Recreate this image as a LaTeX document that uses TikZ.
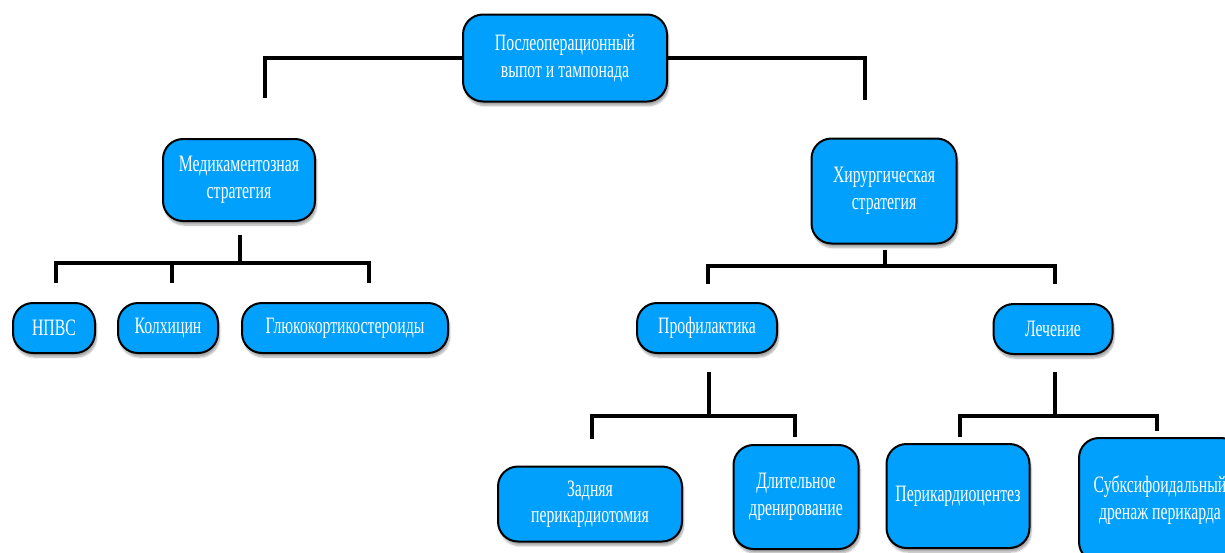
\documentclass[tikz,border=0pt]{standalone}
\usepackage{fontspec}
\setmainfont{Liberation Serif}[FakeStretch=0.67]
\usetikzlibrary{shadows.blur}
\definecolor{boxblue}{RGB}{0,160,252}
\tikzset{
  box/.style={draw=black, line width=2pt, fill=boxblue, rounded corners=20pt,
    text=white, align=center, font=\fontsize{23.5}{26.5}\selectfont, inner sep=2pt,
    blur shadow={shadow xshift=1.5pt, shadow yshift=-4pt, shadow opacity=35, shadow blur steps=8}},
  conn/.style={draw=black, line width=3.5pt, line join=miter, line cap=butt},
}
\begin{document}
\begin{tikzpicture}[x=1pt, y=-1pt]
\useasboundingbox (0,0) rectangle (1225,552);
\clip (0,0) rectangle (1225,552);

% boxes
\node[box, minimum width=204pt, minimum height=87pt] (top) at (565,58) {Послеоперационный\\выпот и тампонада};
\node[box, minimum width=152pt, minimum height=82pt] (med) at (239,180) {Медикаментозная\\стратегия};
\node[box, minimum width=145pt, minimum height=105pt] (surg) at (884,191) {Хирургическая\\стратегия};

\node[box, minimum width=82pt, minimum height=50pt] (nsaid) at (54,328) {НПВС};
\node[box, minimum width=100pt, minimum height=50pt] (colch) at (168,328) {Колхицин};
\node[box, minimum width=206pt, minimum height=50pt] (gluco) at (345,328) {Глюкокортикостероиды};

\node[box, minimum width=140pt, minimum height=50pt] (prof) at (707,328) {Профилактика};
\node[box, minimum width=119pt, minimum height=50pt] (treat) at (1053,329) {Лечение};

\node[box, minimum width=184pt, minimum height=75pt] (post) at (590,504) {Задняя\\перикардиотомия};
\node[box, minimum width=125pt, minimum height=104pt] (drain) at (796,497) {Длительное\\дренирование};
\node[box, minimum width=143pt, minimum height=104pt] (peri) at (958,496) {Перикардиоцентез};
\node[box, minimum width=162pt, minimum height=124pt] (subx) at (1160,500) {Субксифоидальный\\дренаж перикарда};

% connector end points
\coordinate (top-l) at (265,98);
\coordinate (top-r) at (865,100);

\coordinate (med-out) at (240,235);
\coordinate (med-hub) at (240,263);
\coordinate (nsaid-in) at (56,283);
\coordinate (colch-in) at (172,283);
\coordinate (gluco-in) at (369,283);

\coordinate (surg-out) at (885,250);
\coordinate (surg-hub) at (885,266);
\coordinate (prof-in) at (708,284);
\coordinate (treat-in) at (1055,284);

\coordinate (prof-out) at (709,372);
\coordinate (prof-hub) at (709,416);
\coordinate (post-in) at (592,439);
\coordinate (drain-in) at (795,437);

\coordinate (treat-out) at (1055,372);
\coordinate (treat-hub) at (1055,416);
\coordinate (peri-in) at (960,437);
\coordinate (subx-in) at (1157,431);

% connectors
\draw[conn] (top.west) -| (top-l);
\draw[conn] (top.east) -| (top-r);

\draw[conn] (med-out) -- (med-hub);
\draw[conn] (nsaid-in) |- (med-hub) -| (gluco-in);
\draw[conn] (colch-in) -- (colch-in |- med-hub);

\draw[conn] (surg-out) -- (surg-hub);
\draw[conn] (prof-in) |- (surg-hub) -| (treat-in);

\draw[conn] (prof-out) -- (prof-hub);
\draw[conn] (post-in) |- (prof-hub) -| (drain-in);

\draw[conn] (treat-out) -- (treat-hub);
\draw[conn] (peri-in) |- (treat-hub) -| (subx-in);
\end{tikzpicture}
\end{document}
